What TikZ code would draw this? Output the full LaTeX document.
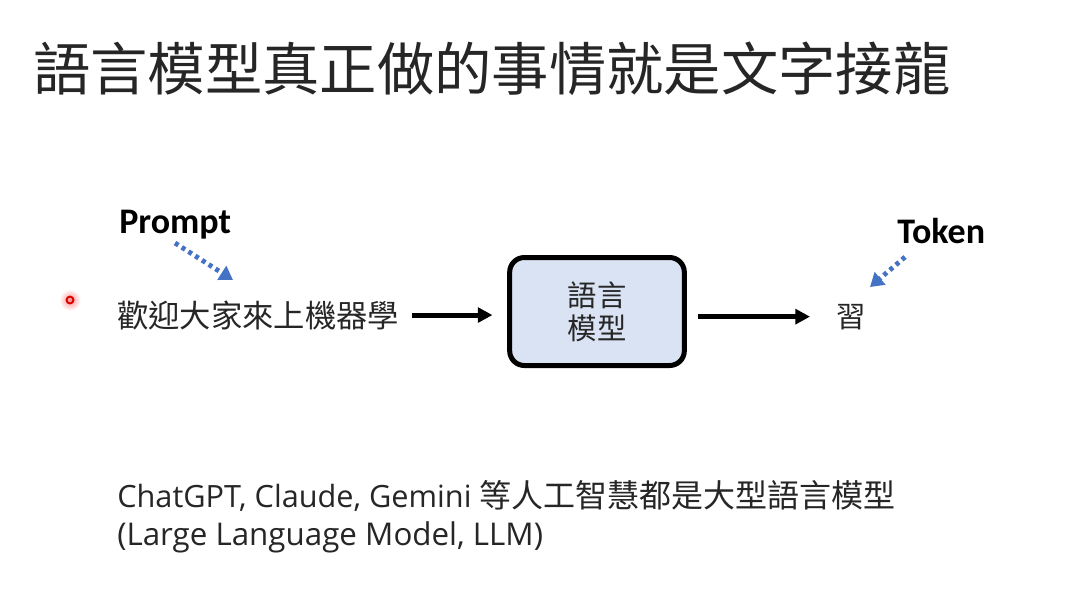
\documentclass[tikz,border=0pt]{standalone}
\usepackage{fontspec}
\setmainfont{Open Sans}
\newfontfamily\cjk{Noto Sans CJK TC}
\newfontfamily\calib{Carlito}
\usetikzlibrary{arrows.meta, positioning, calc, shadings}
\definecolor{slideblue}{HTML}{4472C4}
\definecolor{boxfill}{HTML}{DAE3F3}
\definecolor{inkgray}{HTML}{262626}

\begin{document}
\begin{tikzpicture}[x=0.75pt, y=-0.75pt, line join=round,
    txt/.style={inner sep=0pt, text=inkgray},
    bigarrow/.style={line width=3.75pt, -{Triangle[length=11pt, width=11pt]}},
    hintarrow/.style={slideblue, line width=3.6pt, dash pattern=on 3pt off 3pt,
                      -{Triangle[length=10pt, width=12pt]}}]
        \useasboundingbox (0,0) rectangle (1080,608);
        \fill[white] (0,0) rectangle (1080,608);
        % title
        \node[txt, anchor=base west, font=\cjk\fontsize{43}{50}\selectfont] (title) at (33,90) {語言模型真正做的事情就是文字接龍};
        % labels
        \node[txt, anchor=base west, text=black, font=\calib\bfseries\fontsize{27}{32}\selectfont] (prompt) at (119,233) {Prompt};
        \node[txt, anchor=base west, text=black, font=\calib\bfseries\fontsize{27}{32}\selectfont] (token) at (897,243) {Token};
        \node[txt, anchor=base west, font=\cjk\fontsize{23.5}{28}\selectfont] (input) at (117,327) {歡迎大家來上機器學};
        \node[draw=black, line width=3.75pt, rounded corners=11pt, fill=boxfill,
              minimum width=131pt, minimum height=81pt, align=center, text=inkgray,
              font=\cjk\fontsize{22}{24.75}\selectfont] (lm) at (597,311.5) {語言\\模型};
        \node[txt, anchor=base, font=\cjk\fontsize{22}{26}\selectfont] (output) at (851,327) {習};
        % main flow
        \draw[bigarrow, shorten <=9pt, shorten >=11pt] (input.east) -- (input.east -| lm.west);
        \draw[bigarrow, shorten <=8pt, shorten >=19.5pt] (lm.east |- output.west) -- (output.west);
        % hint arrows
        \coordinate (ptail) at (175,243);
        \coordinate (phead) at (233,280);
        \coordinate (ttail) at (905,257);
        \coordinate (thead) at (870,287);
        \draw[hintarrow] (ptail) -- (phead);
        \draw[hintarrow] (ttail) -- (thead);
        % bottom note
        \node[txt, anchor=base west, font=\fontsize{23}{28}\selectfont] (note) at (117,507) {ChatGPT, Claude, Gemini {\cjk\fontsize{24}{28}\selectfont 等人工智慧都是大型語言模型}};
        \node[txt, anchor=base west, font=\fontsize{23.5}{28}\selectfont] (llm) at (117,545) {(Large Language Model, LLM)};
        % pointer
        \shade[inner color=red!45, outer color=white] (70,300) circle (8pt);
        \draw[red!85!black, line width=1.4pt] (70,300) circle (2.6pt);
    \end{tikzpicture}
\end{document}
